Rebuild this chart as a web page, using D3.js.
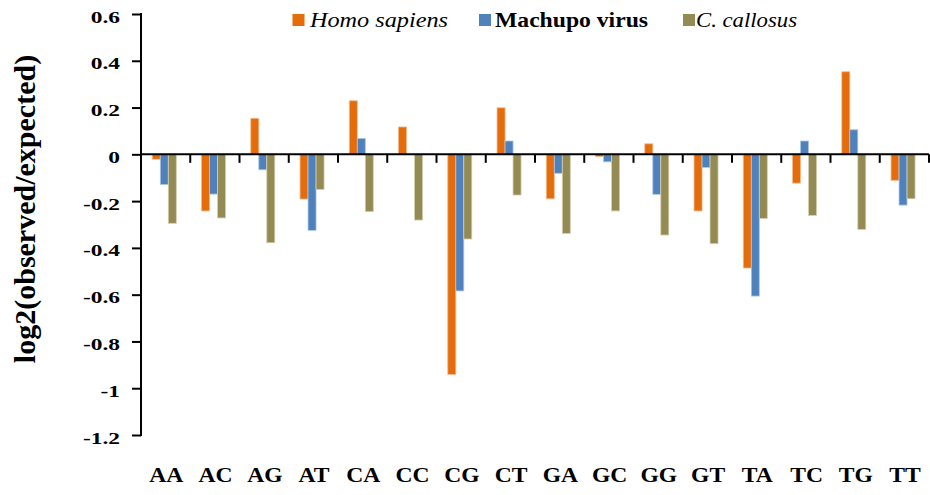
<!DOCTYPE html>
<html>
<head>
<meta charset="utf-8">
<script src="https://cdn.jsdelivr.net/npm/d3@7"></script>
<style>
  html, body { margin: 0; padding: 0; background: #fff; }
  svg { display: block; }
</style>
</head>
<body>
<svg id="chart" width="930" height="495"></svg>
<script>
// Dinucleotide relative abundance, log2(observed/expected)
const dinucleotides = ["AA","AC","AG","AT","CA","CC","CG","CT","GA","GC","GG","GT","TA","TC","TG","TT"];
const seriesNames = ["Homo sapiens", "Machupo virus", "C. callosus"];
const homoSapiens  = [-0.021,-0.242, 0.154,-0.191, 0.229, 0.117,-0.941, 0.199,-0.190,-0.009, 0.045,-0.242,-0.486,-0.123, 0.353,-0.111];
const machupoVirus = [-0.129,-0.170,-0.066,-0.325, 0.068, 0.000,-0.584, 0.057,-0.081,-0.032,-0.171,-0.056,-0.606, 0.057, 0.105,-0.217];
const cCallosus    = [-0.295,-0.272,-0.378,-0.150,-0.245,-0.281,-0.362,-0.174,-0.338,-0.242,-0.345,-0.382,-0.274,-0.261,-0.321,-0.190];
const yTicks = [0.6, 0.4, 0.2, 0, -0.2, -0.4, -0.6, -0.8, -1, -1.2];
const yTickLabels = ["0.6", "0.4", "0.2", "0", "-0.2", "-0.4", "-0.6", "-0.8", "-1", "-1.2"];
const yTitle = "log2(observed/expected)";

const seriesValues = [homoSapiens, machupoVirus, cCallosus];
const colors = ["#E46C0A", "#4F81BD", "#948A54"];
const edge = ["#F4B98A", "#AFC6E2", "#D4CFAE"];
const SERIF = "'Liberation Serif', 'Times New Roman', Times, serif";

const svg = d3.select("#chart");

const plotLeft = 141, plotRight = 929;
const x = d3.scaleBand().domain(dinucleotides).range([plotLeft, plotRight]).paddingInner(0).paddingOuter(0);
const x1 = d3.scaleBand().domain(seriesNames).range([11.3, 35.3]);
const y = d3.scaleLinear().domain([-1.2, 0.6]).range([435, 14]);

// bars
seriesNames.forEach((name, si) => {
  svg.append("g")
    .selectAll("rect")
    .data(dinucleotides.map((d, i) => ({ cat: d, v: seriesValues[si][i] })))
    .join("rect")
    .attr("x", d => x(d.cat) + x1(name))
    .attr("width", x1.bandwidth())
    .attr("y", d => y(Math.max(0, d.v)))
    .attr("height", d => Math.abs(y(d.v) - y(0)))
    .attr("fill", colors[si])
    .attr("stroke", edge[si])
    .attr("stroke-width", 0.8);
});

// y axis
const yAxis = svg.append("g").attr("transform", `translate(${plotLeft},0)`)
  .call(d3.axisLeft(y).tickValues(yTicks).tickSize(9).tickFormat((d, i) => yTickLabels[i]));
yAxis.attr("font-family", null);
yAxis.select(".domain").attr("stroke", "#000").attr("stroke-width", 2)
  .attr("d", `M0,${y(0.6) - 1}V${y(-1.2) + 1}`);
yAxis.selectAll(".tick line").attr("stroke", "#000").attr("stroke-width", 2);
yAxis.selectAll(".tick text").remove();
yAxis.selectAll(".tick").append("text")
  .attr("transform", "translate(-21,8) scale(1.42,1)")
  .attr("text-anchor", "end")
  .attr("fill", "#000")
  .style("font-family", SERIF)
  .style("font-size", "16.5px")
  .style("font-weight", "bold")
  .text((d, i) => yTickLabels[i]);

// category axis along zero, ticks at band boundaries
const zeroY = y(0);
const boundaries = dinucleotides.slice(1).map(d => x(d)).concat([plotRight]);
svg.append("line")
  .attr("x1", plotLeft).attr("x2", plotRight)
  .attr("y1", zeroY).attr("y2", zeroY)
  .attr("stroke", "#000").attr("stroke-width", 2);
svg.append("g").selectAll("line").data(boundaries).join("line")
  .attr("x1", d => d).attr("x2", d => d)
  .attr("y1", zeroY).attr("y2", zeroY + 8.5)
  .attr("stroke", "#000").attr("stroke-width", 2);

// category labels
svg.append("g").selectAll("text").data(dinucleotides).join("text")
  .attr("transform", d => `translate(${x(d) + x.bandwidth() / 2 + 0.7},481.5) scale(1.18,1)`)
  .attr("text-anchor", "middle")
  .style("font-family", SERIF)
  .style("font-size", "20px")
  .style("font-weight", "bold")
  .text(d => d);

// y-axis title
svg.append("text")
  .attr("transform", "translate(35,209) rotate(-90)")
  .attr("text-anchor", "middle")
  .style("font-family", SERIF)
  .style("font-size", "30px")
  .style("font-weight", "bold")
  .text(yTitle);

// legend
const legendItems = [
  { name: seriesNames[0], sx: 292.5, tx: 310, w: 138, style: "italic", weight: "normal" },
  { name: seriesNames[1], sx: 479,   tx: 495, w: 153, style: "normal", weight: "bold" },
  { name: seriesNames[2], sx: 683,   tx: 696, w: 101, style: "italic", weight: "normal" }
];
const legend = svg.append("g");
legendItems.forEach((it, i) => {
  legend.append("rect")
    .attr("x", it.sx).attr("y", 14)
    .attr("width", 12).attr("height", 12)
    .attr("fill", colors[i]);
  legend.append("text")
    .attr("x", it.tx).attr("y", 27.3)
    .attr("textLength", it.w)
    .attr("lengthAdjust", "spacingAndGlyphs")
    .style("font-family", SERIF)
    .style("font-size", "21px")
    .style("font-style", it.style)
    .style("font-weight", it.weight)
    .text(it.name);
});
</script>
</body>
</html>
